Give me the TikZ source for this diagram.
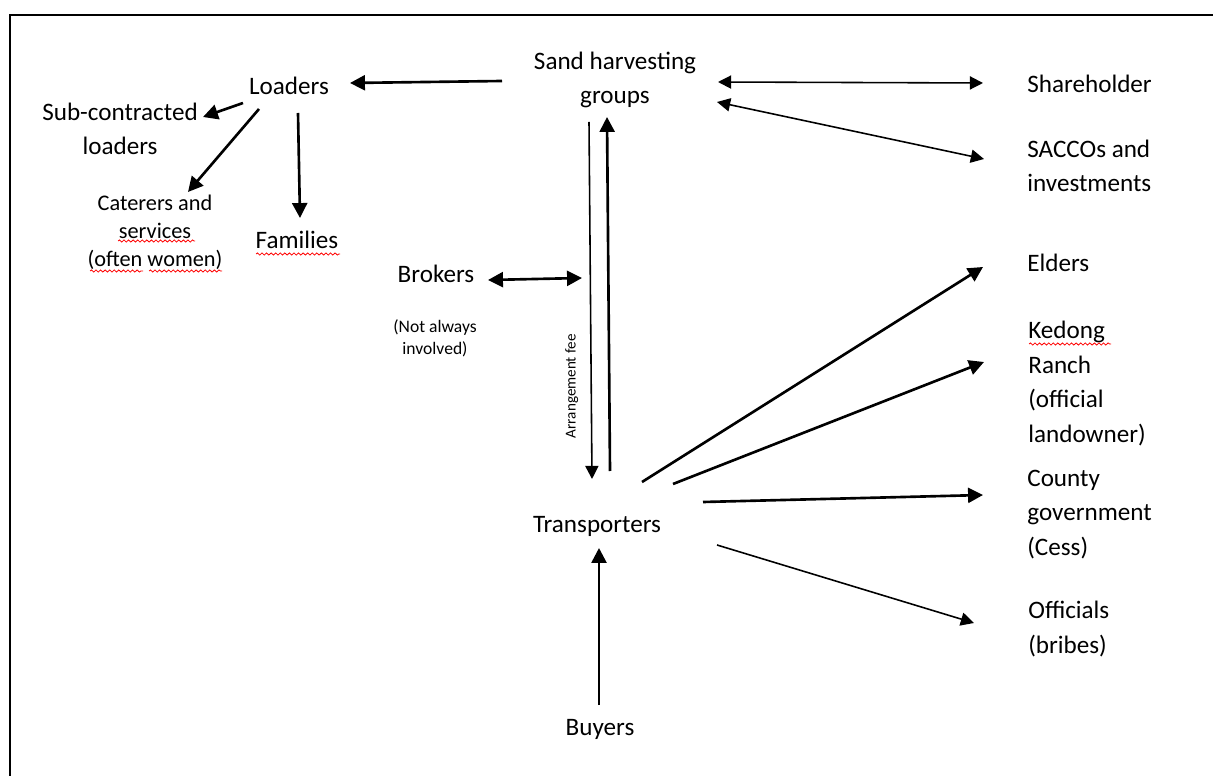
\documentclass[tikz,border=0pt]{standalone}
\usepackage{fontspec}
\setmainfont{Carlito}
\usetikzlibrary{arrows.meta,decorations.pathmorphing}
\begin{document}
\begin{tikzpicture}[x=0.02cm, y=-0.02cm]
      \tikzset{actor/.style={inner sep=0pt, font=\fontsize{14.3}{19.6}\selectfont, align=center, anchor=base},
               payee/.style={actor, align=left, anchor=base west},
               smallnote/.style={actor, font=\fontsize{12.7}{16.2}\selectfont},
               tinynote/.style={actor, font=\fontsize{10}{13}\selectfont},
               feenote/.style={font=\fontsize{8.6}{10}\selectfont, rotate=90, anchor=south, inner sep=7pt},
               flow/.style={line width=1.5pt, -{Triangle[length=8.5pt, width=8.5pt]}},
               twoway/.style={line width=1.5pt, {Triangle[length=8.5pt, width=8.5pt]}-{Triangle[length=8.5pt, width=8.5pt]}},
               thinflow/.style={line width=0.9pt, -{Triangle[length=7.5pt, width=7.5pt]}},
               thintwoway/.style={line width=0.9pt, {Triangle[length=7.5pt, width=7.5pt]}-{Triangle[length=7.5pt, width=7.5pt]}},
               squiggle/.style={red, line width=0.45pt, decorate, decoration={snake, amplitude=0.6pt, segment length=2.6pt}}}
      \useasboundingbox (0,0) rectangle (1213,776);
      \draw[line width=1.6pt] (10,776) -- (10,15) -- (1213,15);
%% Actors (base = last line)
      \node[actor] (sand) at (615,104) {Sand harvesting\\groups};
      \node[actor] (loaders) at (289,95) {Loaders};
      \node[actor] (subload) at (120,155) {Sub-contracted\\loaders};
      \node[smallnote] (caterers) at (155,267) {Caterers and\\services\\(often women)};
      \node[actor] (families) at (297,249) {Families};
      \node[actor] (brokers) at (436,283) {Brokers};
      \node[tinynote] (notalways) at (435,355) {(Not always\\involved)};
      \node[actor] (transp) at (597,532) {Transporters};
      \node[actor] (buyers) at (600,735) {Buyers};
      \coordinate (feeline) at (582,278);
%% Payees
      \node[payee] (share) at (1027,93) {Shareholder};
      \node[payee] (saccos) at (1027,192) {SACCOs and\\investments};
      \node[payee] (elders) at (1027,272) {Elders};
      \node[payee] (kedong) at (1028,442) {Kedong\\Ranch\\(official\\landowner)};
      \node[payee] (county) at (1027,555) {County\\government\\(Cess)};
      \node[payee] (officials) at (1028,653) {Officials\\(bribes)};
%% Spelling marks
      \draw[squiggle] (118,241) -- (195,241);
      \draw[squiggle] (90,271) -- (143,271);
      \draw[squiggle] (149,271) -- (222,271);
      \draw[squiggle] (256,254) -- (340,254);
      \draw[squiggle] (1029,344) -- (1111,344);
%% Loaders side
      \draw[flow] ([shift={(-113,-23)}]sand.base) -- ([shift={(61,-12)}]loaders.base);
      \draw[flow] ([shift={(-46,8)}]loaders.base) -- ([shift={(83,-38)}]subload.base);
      \draw[flow] ([shift={(-30,14)}]loaders.base) -- ([shift={(33,-75)}]caterers.base);
      \draw[flow] ([shift={(9,18)}]loaders.base) -- ([shift={(3,-31)}]families.base);
%% Groups and shares
      \draw[thintwoway] ([shift={(103,-22)}]sand.base) -- ([shift={(-44,-10)}]share.base west);
      \draw[thintwoway] ([shift={(102,-2)}]sand.base) -- ([shift={(-43,-33)}]saccos.base west);
%% Groups and transporters
      \draw[twoway] ([shift={(52,-3)}]brokers.base) -- (feeline);
      \draw[thinflow] ([shift={(-26,18)}]sand.base) -- node[pos=0.74, feenote] {Arrangement fee} ([shift={(-5,-53)}]transp.base);
      \draw[flow] ([shift={(13,-61)}]transp.base) -- ([shift={(-8,13)}]sand.base);
      \draw[flow] ([shift={(-1,-30)}]buyers.base) -- ([shift={(2,16)}]transp.base);
%% Transporters pay out
      \draw[flow] ([shift={(45,-50)}]transp.base) -- ([shift={(-44,-5)}]elders.base west);
      \draw[flow] ([shift={(76,-48)}]transp.base) -- ([shift={(-44,-80)}]kedong.base west);
      \draw[flow] ([shift={(106,-30)}]transp.base) -- ([shift={(-44,-60)}]county.base west);
      \draw[thinflow] ([shift={(120,13)}]transp.base) -- ([shift={(-54,-30)}]officials.base west);
\end{tikzpicture}
\end{document}
